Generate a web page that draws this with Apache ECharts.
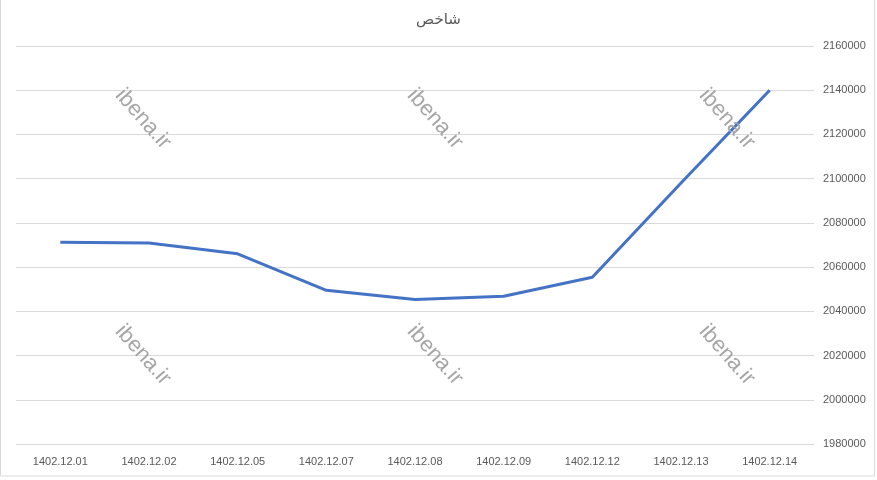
<!DOCTYPE html>
<html>
<head>
<meta charset="utf-8">
<script src="https://cdn.jsdelivr.net/npm/echarts@6/dist/echarts.min.js"></script>
<style>html,body{margin:0;padding:0;background:#fff;}#c{width:877px;height:480px;}</style>
</head>
<body>
<div id="c"></div>
<script>
var categories = ['1402.12.01','1402.12.02','1402.12.05','1402.12.07','1402.12.08','1402.12.09','1402.12.12','1402.12.13','1402.12.14'];
var values = [2071300, 2070900, 2066000, 2049500, 2045400, 2046800, 2055400, 2098000, 2140000];
var titleText = 'شاخص';
var watermark = 'ibena.ir';

var chart = echarts.init(document.getElementById('c'));
var wmPos = [[143,119],[435,119],[727,119],[143,355],[435,355],[727,355]];
var graphics = [{
  type:'rect', shape:{x:0.5,y:-2,width:874,height:478},
  style:{fill:'none',stroke:'#d9d9d9',lineWidth:1}, silent:true, z:-1
}];
wmPos.forEach(function(p){
  graphics.push({
    type:'text', x:p[0], y:p[1], rotation:-Math.PI*0.27,
    style:{text:watermark, font:'22px "Liberation Sans", Arial, sans-serif', fill:'#a6a6a6', align:'center', verticalAlign:'middle'},
    silent:true, z:10
  });
});
chart.setOption({
  animation:false,
  title:{text:titleText, left:'center', top:7, textStyle:{fontSize:15, fontWeight:'normal', color:'#595959', fontFamily:'"Noto Sans", "DejaVu Sans", sans-serif'}},
  grid:{left:16, right:63, top:46, bottom:36, containLabel:false},
  xAxis:{
    type:'category', data:categories, boundaryGap:true,
    axisLine:{show:false}, axisTick:{show:false},
    axisLabel:{color:'#595959', fontSize:11, margin:12, fontFamily:'"Liberation Sans Narrow", "Liberation Sans", Arial, sans-serif'}
  },
  yAxis:{
    type:'value', position:'right', min:1980000, max:2160000, interval:20000,
    axisLine:{show:false}, axisTick:{show:false},
    splitLine:{lineStyle:{color:'#d9d9d9', width:1}},
    axisLabel:{color:'#595959', fontSize:11, margin:9, formatter:function(v){return String(v);}, fontFamily:'"Liberation Sans Narrow", "Liberation Sans", Arial, sans-serif'}
  },
  series:[{
    type:'line', data:values, symbol:'none', smooth:false,
    lineStyle:{color:'#4472C4', width:3}
  }],
  graphic:graphics
});
</script>
</body>
</html>
